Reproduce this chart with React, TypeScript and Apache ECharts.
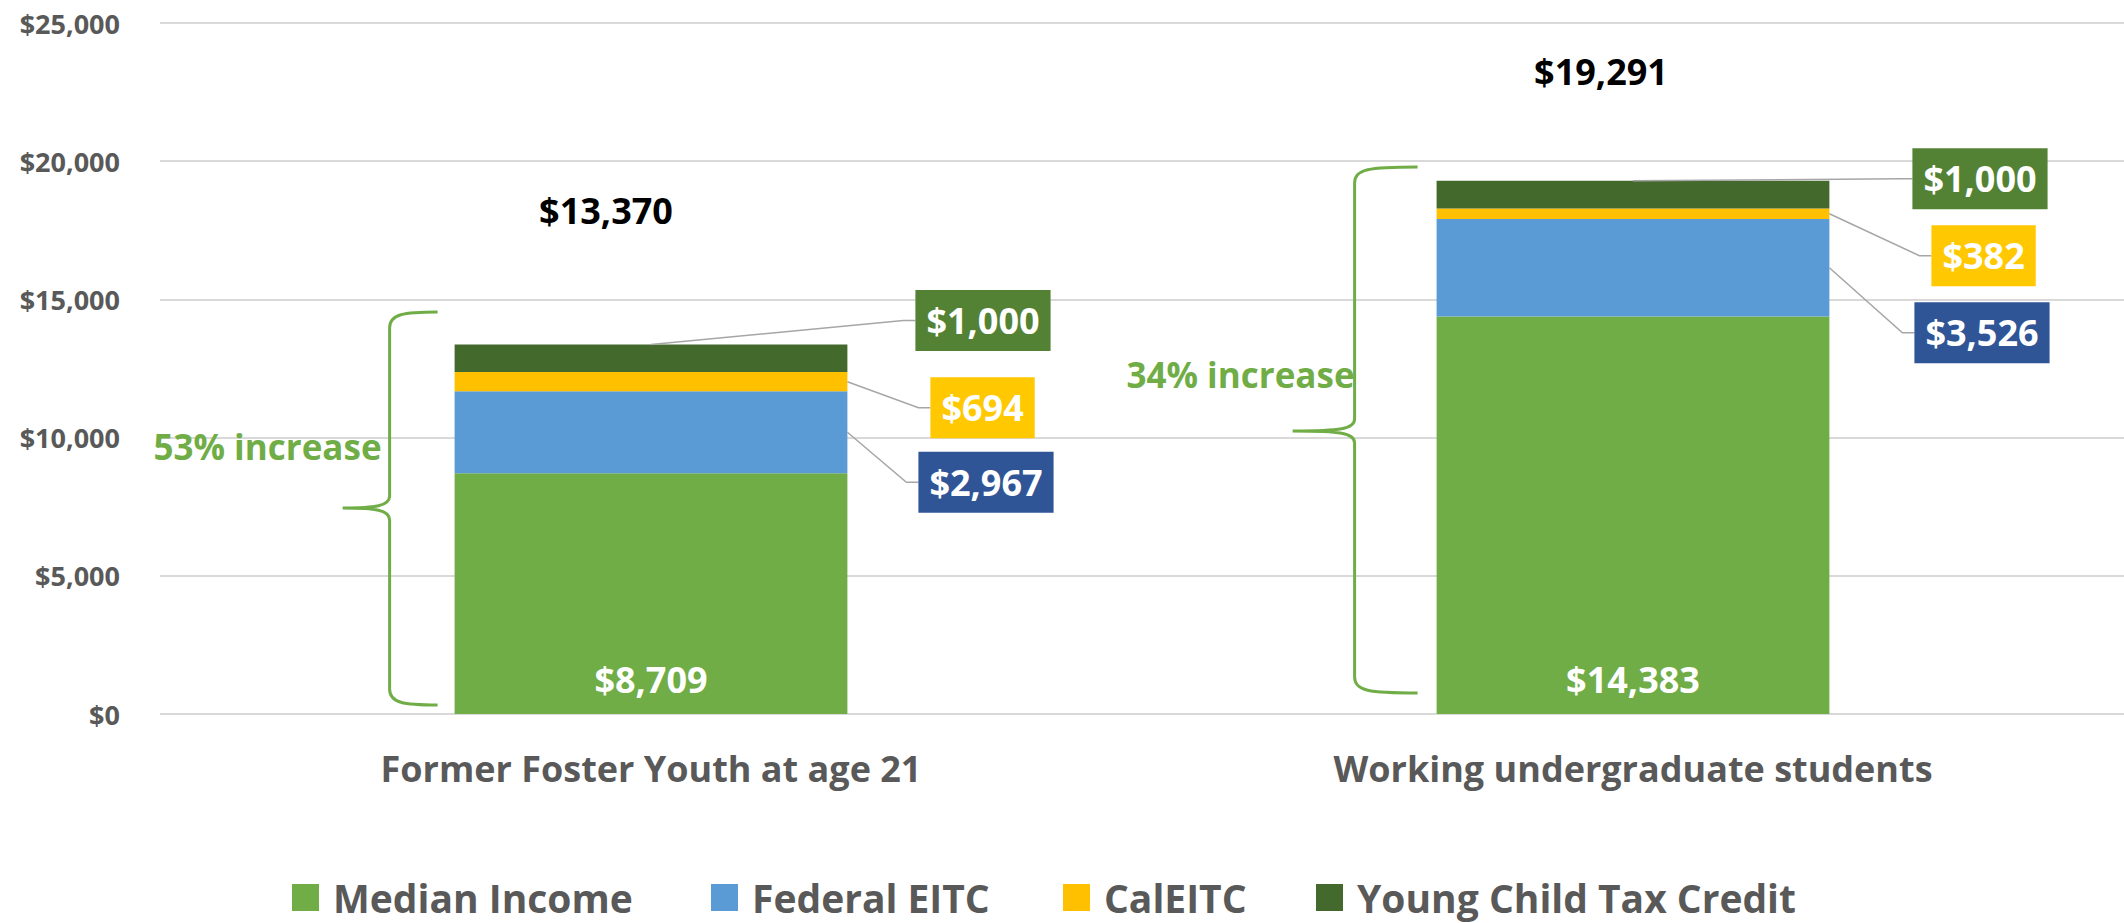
import { useEffect, useRef } from 'react';
import * as echarts from 'echarts';

// ---------- data ----------
const categories = ['Former Foster Youth at age 21', 'Working undergraduate students'];
const seriesNames = ['Median Income', 'Federal EITC', 'CalEITC', 'Young Child Tax Credit'];
const medianIncome = [8709, 14383];
const federalEITC = [2967, 3526];
const calEITC = [694, 382];
const youngChildTaxCredit = [1000, 1000];
const increaseLabels = ['53% increase', '34% increase'];
const yMin = 0;
const yMax = 25000;
const yInterval = 5000;

// ---------- styles / layout ----------
const FONT = "'Open Sans', 'Noto Sans', sans-serif";
const barColors = ['#70AD47', '#5B9BD5', '#FFC000', '#44692C'];
const boxColors = ['', '#2F5597', '#FFC800', '#548235'];
const axisTextColor = '#595959';
const braceColor = '#70AD47';
const leaderColor = '#A6A6A6';

// callout offsets (pixels): dx from bar right edge, dy from anchor
const calloutLayout = [
  { 1: { dx: 71, dy: 50 }, 2: { dx: 83, dy: 26 }, 3: { dx: 68, dy: -24 } },
  { 1: { dx: 85, dy: 65 }, 2: { dx: 102, dy: 42 }, 3: { dx: 83, dy: -2 } },
];
// total label offsets from bar top centre
const totalLayout = [
  { dx: -45, dy: -134 },
  { dx: -32, dy: -109 },
];
// brace layout: y given in axis values, x offsets from bar left edge
const braceLayout = [
  { top: 14544, cusp: 7453, bottom: 326, endDx: -17, lineDx: -65, cuspDx: -112, label: 9696, labelDx: -8 },
  { top: 19790, cusp: 10239, bottom: 760, endDx: -19, lineDx: -82, cuspDx: -144, label: 12301, labelDx: 0 },
];
const legendLefts = [292, 711, 1063, 1316];

const fmt = (v: number) => '$' + Math.round(v).toLocaleString('en-US');

export default function App() {
  const ref = useRef<HTMLDivElement>(null);

  useEffect(() => {
    document.body.style.margin = '0';
    if (!ref.current) return;
    const chart = echarts.init(ref.current, null, { renderer: 'svg' });

    const seriesValues = [medianIncome, federalEITC, calEITC, youngChildTaxCredit];
    const totals = categories.map((_, i) => seriesValues.reduce((s, arr) => s + arr[i], 0));

    const calloutData: number[][] = [];
    categories.forEach((_, i) => {
      const m = medianIncome[i];
      const f = federalEITC[i];
      const c = calEITC[i];
      const y = youngChildTaxCredit[i];
      calloutData.push([i, m, m + f, 1, f]);
      calloutData.push([i, m + f, m + f + c, 2, c]);
      calloutData.push([i, m + f + c, m + f + c + y, 3, y]);
    });

    const barSeries = seriesNames.map((name, k) => ({
      name,
      type: 'bar',
      stack: 'total',
      barWidth: '40%',
      data: seriesValues[k],
      itemStyle: { color: barColors[k] },
      label:
        k === 0
          ? {
              show: true,
              position: 'insideBottom',
              distance: 17,
              formatter: (p: any) => fmt(p.value),
              color: '#FFFFFF',
              fontSize: 36,
              fontWeight: 'bold',
              fontFamily: FONT,
              lineHeight: 36,
            }
          : { show: false },
      z: 2,
    }));

    const option: any = {
      animation: false,
      backgroundColor: '#FFFFFF',
      grid: { left: 160, top: 23, width: 1966, height: 691, containLabel: false },
      legend: seriesNames.map((n, i) => ({
        data: [n],
        left: legendLefts[i],
        top: 878,
        padding: 0,
        icon: 'rect',
        itemWidth: 27,
        itemHeight: 27,
        selectedMode: false,
        textStyle: {
          fontSize: 39,
          fontWeight: 'bold',
          fontFamily: FONT,
          color: axisTextColor,
          lineHeight: 36,
          padding: [0, 0, 0, 9],
        },
      })),
      xAxis: {
        type: 'category',
        data: categories,
        axisLine: { show: false },
        axisTick: { show: false },
        axisLabel: {
          margin: 36,
          fontSize: 36,
          fontWeight: 'bold',
          fontFamily: FONT,
          color: axisTextColor,
          lineHeight: 36,
        },
      },
      yAxis: {
        type: 'value',
        min: yMin,
        max: yMax,
        interval: yInterval,
        axisLine: { show: false },
        axisTick: { show: false },
        splitLine: { lineStyle: { color: '#D9D9D9', width: 2 } },
        axisLabel: {
          margin: 40,
          fontSize: 27,
          fontWeight: 'bold',
          fontFamily: FONT,
          color: axisTextColor,
          formatter: (v: number) => fmt(v),
        },
      },
      series: [
        ...barSeries,
        {
          name: 'callouts',
          type: 'custom',
          silent: true,
          clip: false,
          z: 10,
          data: calloutData,
          encode: { x: 0, y: 2 },
          renderItem: (params: any, api: any) => {
            const cat = api.value(0);
            const lo = api.value(1);
            const hi = api.value(2);
            const kind = api.value(3);
            const val = api.value(4);
            const half = (api.size([1, 0])[0] * 0.4) / 2;
            const [cx, yHi] = api.coord([cat, hi]);
            const yLo = api.coord([cat, lo])[1];
            const right = cx + half;
            const lay = (calloutLayout as any)[cat][kind];
            let anchor: number[];
            if (kind === 3) anchor = [cx, yHi];
            else anchor = [right, (yHi + yLo) / 2];
            const boxLeft = right + lay.dx;
            const cy = anchor[1] + lay.dy;
            const elbowX = boxLeft - 12;
            return {
              type: 'group',
              children: [
                {
                  type: 'polyline',
                  shape: { points: [anchor, [elbowX, cy], [boxLeft, cy]] },
                  style: { stroke: leaderColor, lineWidth: 1.5, fill: 'none' },
                },
                {
                  type: 'text',
                  x: boxLeft,
                  y: cy,
                  style: {
                    text: fmt(val),
                    fill: '#FFFFFF',
                    fontSize: 36,
                    fontWeight: 'bold',
                    fontFamily: FONT,
                    align: 'left',
                    verticalAlign: 'middle',
                    backgroundColor: boxColors[kind],
                    padding: [9, 11],
                    lineHeight: 43,
                  },
                },
              ],
            };
          },
        },
        {
          name: 'totals',
          type: 'custom',
          silent: true,
          clip: false,
          z: 10,
          data: categories.map((_, i) => [i, totals[i]]),
          renderItem: (params: any, api: any) => {
            const cat = api.value(0);
            const tot = api.value(1);
            const [cx, cyTop] = api.coord([cat, tot]);
            const lay = totalLayout[cat];
            return {
              type: 'text',
              x: cx + lay.dx,
              y: cyTop + lay.dy,
              style: {
                text: fmt(tot),
                fill: '#000000',
                fontSize: 36,
                fontWeight: 'bold',
                fontFamily: FONT,
                align: 'center',
                verticalAlign: 'middle',
              },
            };
          },
        },
        {
          name: 'braces',
          type: 'custom',
          silent: true,
          clip: false,
          z: 10,
          data: categories.map((_, i) => [i, totals[i]]),
          renderItem: (params: any, api: any) => {
            const cat = api.value(0);
            const b = braceLayout[cat];
            const half = (api.size([1, 0])[0] * 0.4) / 2;
            const cx = api.coord([cat, 0])[0];
            const left = cx - half;
            const xe = left + b.endDx;
            const xv = left + b.lineDx;
            const xc = left + b.cuspDx;
            const yt = api.coord([cat, b.top])[1];
            const yc = api.coord([cat, b.cusp])[1];
            const yb = api.coord([cat, b.bottom])[1];
            const yl = api.coord([cat, b.label])[1];
            const d = [
              `M ${xe} ${yt}`,
              `C ${xv + 14} ${yt} ${xv} ${yt + 2} ${xv} ${yt + 16}`,
              `L ${xv} ${yc - 12}`,
              `C ${xv} ${yc - 2} ${xv - 14} ${yc} ${xc} ${yc}`,
              `C ${xv - 14} ${yc} ${xv} ${yc + 2} ${xv} ${yc + 12}`,
              `L ${xv} ${yb - 16}`,
              `C ${xv} ${yb - 2} ${xv + 14} ${yb} ${xe} ${yb}`,
            ].join(' ');
            return {
              type: 'group',
              children: [
                {
                  type: 'path',
                  shape: { pathData: d },
                  style: { stroke: braceColor, lineWidth: 3, fill: 'none' },
                },
                {
                  type: 'text',
                  x: xv + b.labelDx,
                  y: yl,
                  style: {
                    text: increaseLabels[cat],
                    fill: braceColor,
                    fontSize: 35,
                    fontWeight: 'bold',
                    fontFamily: FONT,
                    align: 'right',
                    verticalAlign: 'middle',
                  },
                },
              ],
            };
          },
        },
      ],
    };

    chart.setOption(option);
    return () => chart.dispose();
  }, []);

  return <div ref={ref} style={{ width: 2124, height: 923 }} />;
}
